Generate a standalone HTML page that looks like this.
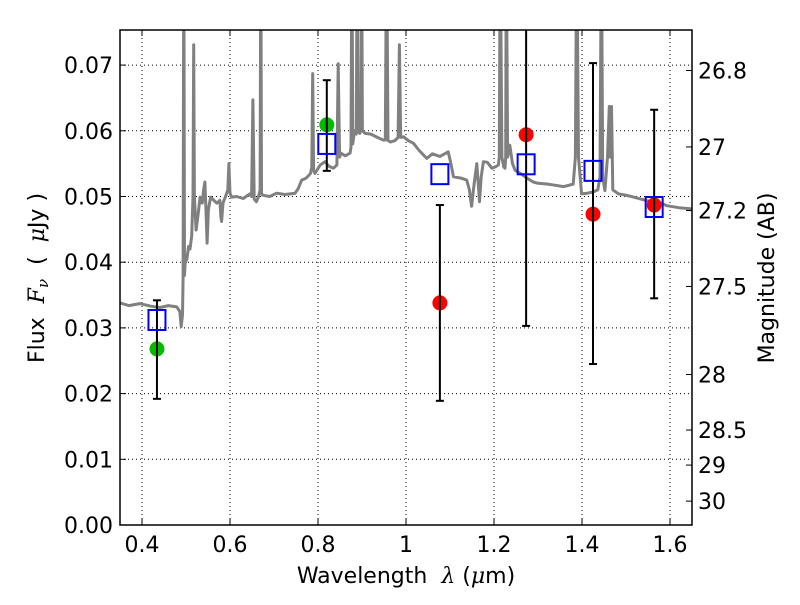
<!DOCTYPE html>
<html><head><meta charset="utf-8"><style>
body{margin:0;background:#fff}
svg text{font-family:"DejaVu Sans","Liberation Sans",sans-serif;fill:#000;white-space:pre}
</style></head><body>
<svg id="chart" width="800" height="600" xmlns="http://www.w3.org/2000/svg">
<rect width="800" height="600" fill="#fff"/>
<defs><clipPath id="pc"><rect x="120" y="30" width="572" height="495"/></clipPath></defs>
<g id="grid"></g>
<g id="spec" clip-path="url(#pc)"></g>
<g id="marks" clip-path="url(#pc)"></g>
<rect x="120" y="30" width="572" height="495" fill="none" stroke="#000" stroke-width="1.5"/>
<g id="axes"></g>
<text x="406" y="583" font-size="22" text-anchor="middle">Wavelength  <tspan font-family="DejaVu Serif" font-style="italic">λ</tspan> (<tspan font-family="DejaVu Serif" font-style="italic">μ</tspan>m)</text>
<text transform="translate(44,278) rotate(-90)" font-size="22" text-anchor="middle">Flux  <tspan font-family="DejaVu Serif" font-style="italic">F<tspan font-size="15" dy="4">ν</tspan></tspan><tspan dy="-4">  (  </tspan><tspan font-family="DejaVu Serif" font-style="italic">μ</tspan>Jy )</text>
<text transform="translate(774,278) rotate(-90)" font-size="22" text-anchor="middle">Magnitude (AB)</text>
</svg>
<script>
const specLam=[0.35,0.37,0.395,0.42,0.441,0.46,0.479,0.486,0.489,0.492,0.4935,0.495,0.4965,0.498,0.502,0.506,0.509,0.513,0.516,0.5175,0.519,0.523,0.527,0.532,0.537,0.540,0.543,0.546,0.548,0.551,0.556,0.562,0.570,0.577,0.579,0.581,0.584,0.591,0.595,0.5975,0.600,0.604,0.615,0.630,0.645,0.649,0.652,0.655,0.660,0.665,0.6685,0.670,0.6715,0.674,0.690,0.706,0.725,0.748,0.755,0.763,0.773,0.783,0.786,0.788,0.790,0.793,0.805,0.816,0.825,0.835,0.843,0.846,0.849,0.852,0.862,0.873,0.875,0.877,0.879,0.883,0.887,0.889,0.891,0.895,0.897,0.899,0.901,0.904,0.907,0.920,0.935,0.948,0.953,0.956,0.959,0.965,0.975,0.982,0.985,0.988,0.994,1.005,1.017,1.030,1.047,1.060,1.077,1.088,1.096,1.102,1.108,1.125,1.138,1.144,1.149,1.155,1.161,1.164,1.167,1.171,1.176,1.185,1.195,1.203,1.210,1.212,1.214,1.218,1.222,1.225,1.2265,1.228,1.231,1.236,1.242,1.248,1.260,1.275,1.289,1.300,1.320,1.340,1.358,1.370,1.380,1.385,1.388,1.392,1.399,1.412,1.426,1.436,1.441,1.444,1.447,1.452,1.458,1.462,1.464,1.467,1.470,1.483,1.500,1.517,1.540,1.562,1.580,1.593,1.620,1.653];
const specFlux=[0.0338,0.0334,0.0337,0.0333,0.0331,0.0334,0.0332,0.0325,0.0302,0.0320,0.0378,0.09,0.0380,0.0398,0.0405,0.0424,0.0420,0.0440,0.05,0.0731,0.05,0.0449,0.047,0.0499,0.0490,0.0510,0.0522,0.0470,0.0429,0.0480,0.0499,0.0495,0.0490,0.0494,0.0470,0.0462,0.0490,0.0502,0.0510,0.0550,0.0505,0.0499,0.0500,0.0497,0.0504,0.0500,0.0647,0.0496,0.0492,0.0500,0.0510,0.09,0.0505,0.0502,0.0500,0.0505,0.0503,0.0505,0.0512,0.0525,0.0528,0.0535,0.0545,0.0687,0.0540,0.0535,0.0548,0.0553,0.0546,0.0543,0.0548,0.0702,0.0560,0.0566,0.0562,0.0566,0.0575,0.09,0.0580,0.0600,0.0595,0.09,0.0600,0.0596,0.0600,0.09,0.0600,0.0598,0.0596,0.0595,0.0590,0.0586,0.0586,0.09,0.0585,0.0583,0.0585,0.0590,0.0731,0.0590,0.0591,0.0585,0.0581,0.0570,0.0558,0.0565,0.0561,0.0565,0.0568,0.0550,0.0530,0.0528,0.0525,0.0510,0.0485,0.0520,0.0550,0.0520,0.0492,0.0530,0.0553,0.0552,0.0543,0.0545,0.0548,0.0560,0.09,0.0560,0.0545,0.0543,0.0560,0.09,0.0560,0.0578,0.0550,0.0540,0.0535,0.0528,0.0522,0.0520,0.0519,0.0517,0.0515,0.0517,0.0519,0.0560,0.09,0.0560,0.0504,0.0505,0.0507,0.0510,0.0530,0.09,0.0530,0.0509,0.0560,0.0637,0.0560,0.0637,0.0510,0.0504,0.0502,0.0499,0.0495,0.0491,0.0490,0.0486,0.0483,0.0481];
const obsLam=[0.434,0.820,1.077,1.273,1.425,1.564];
const obsFlux=[0.0268,0.0609,0.0338,0.0594,0.0473,0.0487];
const obsKind=["green","green","red","red","red","red"];
const errLo=[0.0192,0.0539,0.0189,0.0303,0.0245,0.0345];
const errHi=[0.0342,0.0677,0.0487,0.085,0.0703,0.0632];
const modelFlux=[0.0312,0.0580,0.0534,0.0549,0.0539,0.0484];
const xTicks=[0.4,0.6,0.8,1.0,1.2,1.4,1.6];
const xTickLabels=["0.4","0.6","0.8","1","1.2","1.4","1.6"];
const yTicks=[0,0.01,0.02,0.03,0.04,0.05,0.06,0.07];
const magTicks=[26.8,27,27.2,27.5,28,28.5,29,30];
const magLabels=["26.8","27","27.2","27.5","28","28.5","29","30"];

const X0=0.35,X1=1.65,Y0=0,Y1=0.07534,L=120,R=692,T=30,B=525;
const sx=v=>L+(v-X0)/(X1-X0)*(R-L);
const sy=v=>B-(v-Y0)/(Y1-Y0)*(B-T);
const NS="http://www.w3.org/2000/svg";
function mk(tag,attrs,parent){const e=document.createElementNS(NS,tag);for(const k in attrs)e.setAttribute(k,attrs[k]);parent.appendChild(e);return e;}
const grid=document.getElementById('grid'),axes=document.getElementById('axes');
xTicks.forEach((t,i)=>{const x=sx(t);
 const g=mk('line',{x1:x,x2:x,y1:T,y2:B,stroke:'#000','stroke-width':1,'stroke-dasharray':'1,3'},grid);
 
 mk('line',{x1:x,x2:x,y1:B,y2:B-6,stroke:'#000'},axes);mk('line',{x1:x,x2:x,y1:T,y2:T+6,stroke:'#000'},axes);
 const tx=mk('text',{x:x,y:B+27,'font-size':22,'text-anchor':'middle'},axes);tx.textContent=xTickLabels[i];
 });
yTicks.forEach(t=>{const y=sy(t);
 const g=mk('line',{x1:L,x2:R,y1:y,y2:y,stroke:'#000','stroke-width':1,'stroke-dasharray':'1,3'},grid);
 
 mk('line',{x1:L,x2:L+6,y1:y,y2:y,stroke:'#000'},axes);
 const tx=mk('text',{x:L-7,y:y+8,'font-size':22,'text-anchor':'end'},axes);tx.textContent=t.toFixed(2);
 });
magTicks.forEach((m,i)=>{const y=sy(Math.pow(10,(23.9-m)/2.5));
 mk('line',{x1:R,x2:R-6,y1:y,y2:y,stroke:'#000'},axes);
 const tx=mk('text',{x:R+6,y:y+8,'font-size':22},axes);tx.textContent=magLabels[i];
 });
const pts=specLam.map((l,i)=>sx(l).toFixed(1)+','+sy(specFlux[i]).toFixed(1)).join(' ');
const pl=mk('polyline',{points:pts,fill:'none',stroke:'#808080','stroke-width':3,'stroke-linejoin':'round'},document.getElementById('spec'));

const marks=document.getElementById('marks');
obsLam.forEach((l,i)=>{const x=sx(l);
 const c=mk('circle',{cx:x,cy:sy(obsFlux[i]),r:7.5,fill:obsKind[i]==='green'?'#00bb00':'#ff0000'},marks);
 
 const eb=mk('g',{stroke:'#000','stroke-width':2},marks);
 
 mk('line',{x1:x,x2:x,y1:sy(errLo[i]),y2:sy(errHi[i])},eb);
 mk('line',{x1:x-4,x2:x+4,y1:sy(errLo[i]),y2:sy(errLo[i])},eb);
 mk('line',{x1:x-4,x2:x+4,y1:sy(errHi[i]),y2:sy(errHi[i])},eb);
 const s=mk('rect',{x:x-8.5,y:sy(modelFlux[i])-10,width:17,height:20,fill:'none',stroke:'#0000ff','stroke-width':2},marks);
 });
</script>
</body></html>
